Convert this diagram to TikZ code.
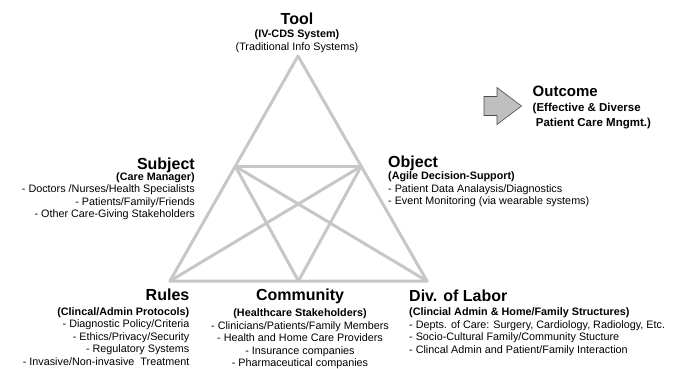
\documentclass[tikz,border=0pt]{standalone}
\usepackage{fontspec}
\setmainfont{Liberation Sans}
\usetikzlibrary{calc}
\begin{document}
\begin{tikzpicture}[x=1pt,y=-1pt]
\tikzset{edge/.style={draw=black!22, line width=3pt, line cap=round, line join=round},
  titre/.style={font=\fontsize{16}{16}\selectfont\bfseries, inner sep=0pt},
  liste/.style={font=\fontsize{10.8}{12.5}\selectfont, inner sep=0pt}}
\useasboundingbox (0,0) rectangle (673,369);
% sommets
\coordinate (T) at (298,56);
\coordinate (R) at (170,281);
\coordinate (D) at (427,281);
\coordinate (S) at ($(T)!0.49!(R)$);
\coordinate (O) at ($(T)!0.49!(D)$);
\coordinate (C) at ($(R)!0.5!(D)$);
\draw[edge] (T) -- (R) -- (D) -- cycle;
\draw[edge] (S) -- (O);
\draw[edge] (S) -- (C);
\draw[edge] (S) -- (D);
\draw[edge] (O) -- (R);
\draw[edge] (O) -- (C);
% textes (base = ligne du bas)
\node[titre, anchor=base] (tool) at (297,25) {Tool};
\node[liste, anchor=base, align=center] (tooltxt) at (297,50.5)
  {\textbf{(IV-CDS System)}\\(Traditional Info Systems)};
\node[titre, anchor=base east] (subject) at (195,169) {Subject};
\node[liste, anchor=base east, align=right] (subjtxt) at (195,217.5)
  {\textbf{(Care Manager)}\\- Doctors /Nurses/Health Specialists\\- Patients/Family/Friends\\- Other Care-Giving Stakeholders};
\node[titre, anchor=base west] (object) at (388,167.5) {Object};
\node[liste, anchor=base west, align=left] (objtxt) at (388,204.5)
  {\textbf{(Agile Decision-Support)}\\- Patient Data Analaysis/Diagnostics\\- Event Monitoring (via wearable systems)};
\node[titre, anchor=base east] (rules) at (189.5,300) {Rules};
\node[liste, anchor=base east, align=right] (rulestxt) at (189.5,365)
  {\textbf{(Clincal/Admin Protocols)}\\- Diagnostic Policy/Criteria\\- Ethics/Privacy/Security\\- Regulatory Systems\\- Invasive/Non-invasive\ \ Treatment};
\node[titre, anchor=base] (community) at (300,300.5) {Community};
\node[liste, anchor=base, align=center] (commtxt) at (300,366.5)
  {\textbf{(Healthcare Stakeholders)}\\- Clinicians/Patients/Family Members\\- Health and Home Care Providers\\- Insurance companies\\- Pharmaceutical companies};
\node[titre, anchor=base west] (labor) at (409,301) {Div. of Labor};
\node[liste, anchor=base west, align=left] (labortxt) at (409,353)
  {\textbf{(Clincial Admin \& Home/Family Structures)}\\- Depts. of Care: Surgery, Cardiology, Radiology, Etc.\\- Socio-Cultural Family/Community Stucture\\- Clincal Admin and Patient/Family Interaction};
% fleche
\draw[fill=black!25, draw=black!70, line width=0.6pt, line join=miter]
  (484,96.5) -- (497,96.5) -- (497,87.5) -- (521.5,106) -- (497,124.5) -- (497,115.5) -- (484,115.5) -- cycle;
\node[titre, font=\fontsize{15}{15}\selectfont\bfseries, anchor=base west] (outcome) at (532.5,96.7) {Outcome};
\node[liste, font=\fontsize{11.5}{15}\selectfont\bfseries, anchor=base west, align=left] (outtxt) at (532.5,126.7)
  {(Effective \& Diverse\\\ Patient Care Mngmt.)};
\end{tikzpicture}
\end{document}
